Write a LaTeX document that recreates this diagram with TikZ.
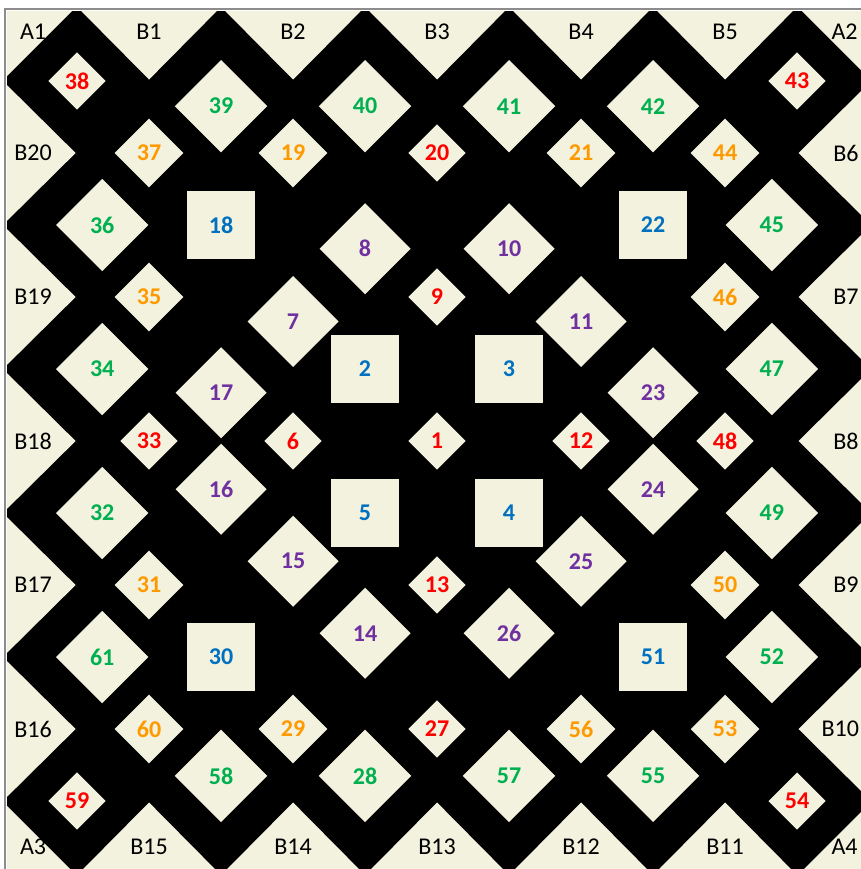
\documentclass[tikz,border=0pt]{standalone}
\usepackage{fontspec}
\setmainfont{Carlito}
\usetikzlibrary{shapes.geometric}
\definecolor{creamc}{HTML}{F2F2DE}
\definecolor{redc}{HTML}{FF0000}
\definecolor{orgc}{HTML}{FF9900}
\definecolor{grnc}{HTML}{00B050}
\definecolor{purc}{HTML}{7030A0}
\definecolor{bluc}{HTML}{0070C0}
\definecolor{greyc}{HTML}{8C8C8C}

\begin{document}
\begin{tikzpicture}[
    tile/.style={fill=creamc,inner sep=0pt,font=\fontsize{9.5}{10}\selectfont\bfseries},
    dia/.style={tile,diamond,aspect=1,minimum size=#1},
    sq/.style={tile,rectangle,minimum size=0.95cm},
    blab/.style={inner sep=0pt,font=\fontsize{9.5}{10}\selectfont}]
  \useasboundingbox (-6.07,-5.944) rectangle (5.875,6.125);
  \fill[black] (-5.97,-5.97) rectangle (5.97,5.97);
  \draw[greyc,line width=0.7pt] (-6,-6) rectangle (6,6);
  % edge triangles B1..B20
  \foreach \x [count=\k] in {-4,-2,0,2,4} {
    \fill[creamc] (\x-0.94,5.97) -- (\x+0.94,5.97) -- (\x,5.02) -- cycle;
    \node[blab] (b\k) at (\x,5.68) {B\k};
  }
  \foreach \y [count=\k from 6] in {4,2,0,-2} {
    \fill[creamc] (5.97,\y+0.94) -- (5.97,\y-0.94) -- (5.02,\y) -- cycle;
    \node[blab] (b\k) at (5.68,\y) {B\k};
  }
  \fill[creamc] (5.97,-3.06) -- (5.97,-4.94) -- (5.02,-4) -- cycle;
  \node[blab] (b10) at (5.6,-4) {B10};
  \foreach \x [count=\k from 11] in {4,2,0,-2,-4} {
    \fill[creamc] (\x-0.94,-5.97) -- (\x+0.94,-5.97) -- (\x,-5.02) -- cycle;
    \node[blab] (b\k) at (\x,-5.64) {B\k};
  }
  \foreach \y [count=\k from 16] in {-4,-2,0,2,4} {
    \fill[creamc] (-5.97,\y+0.94) -- (-5.97,\y-0.94) -- (-5.02,\y) -- cycle;
    \node[blab] (b\k) at (-5.61,\y) {B\k};
  }
  % corner triangles A1..A4
  \foreach \sx/\sy/\k in {-1/1/1, 1/1/2, -1/-1/3, 1/-1/4}
    \fill[creamc] (\sx*5.97,\sy*5.97) -- (\sx*5.07,\sy*5.97) -- (\sx*5.97,\sy*5.07) -- cycle;
  \node[blab] (a1) at (-5.61,5.68) {A1};
  \node[blab] (a2) at (5.66,5.68) {A2};
  \node[blab] (a3) at (-5.61,-5.64) {A3};
  \node[blab] (a4) at (5.66,-5.64) {A4};
  % small red diamonds
  \foreach \n/\x/\y in {1/0/0, 9/0/2, 13/0/-2, 6/-2/0, 12/2/0, 20/0/4, 27/0/-4,
      33/-4/0, 48/4/0, 38/-5/5, 43/5/5, 59/-5/-5, 54/5/-5}
    \node[dia=0.8cm,text=redc] (t\n) at (\x,\y) {\n};
  % orange diamonds
  \foreach \n/\x/\y in {37/-4/4, 19/-2/4, 21/2/4, 44/4/4, 35/-4/2, 46/4/2,
      31/-4/-2, 50/4/-2, 60/-4/-4, 29/-2/-4, 56/2/-4, 53/4/-4}
    \node[dia=0.96cm,text=orgc] (t\n) at (\x,\y) {\n};
  % blue squares
  \foreach \n/\x/\y in {2/-1/1, 3/1/1, 4/1/-1, 5/-1/-1, 18/-3/3, 22/3/3, 30/-3/-3, 51/3/-3}
    \node[sq,text=bluc] (t\n) at (\x,\y) {\n};
  % green diamonds along the border
  \foreach \n/\x/\y in {39/-3/4.65, 40/-1/4.65, 41/1/4.65, 42/3/4.65,
      36/-4.65/3, 34/-4.65/1, 32/-4.65/-1, 61/-4.65/-3,
      45/4.65/3, 47/4.65/1, 49/4.65/-1, 52/4.65/-3,
      58/-3/-4.65, 28/-1/-4.65, 57/1/-4.65, 55/3/-4.65}
    \node[dia=1.29cm,text=grnc] (t\n) at (\x,\y) {\n};
  % purple ring
  \foreach \n/\x/\y in {8/-1/2.67, 10/1/2.67, 7/-2/1.66, 11/2/1.66, 17/-3/0.67, 23/3/0.67,
      16/-3/-0.67, 24/3/-0.67, 15/-2/-1.67, 25/2/-1.67, 14/-1/-2.67, 26/1/-2.67}
    \node[dia=1.27cm,text=purc] (t\n) at (\x,\y) {\n};
\end{tikzpicture}
\end{document}
